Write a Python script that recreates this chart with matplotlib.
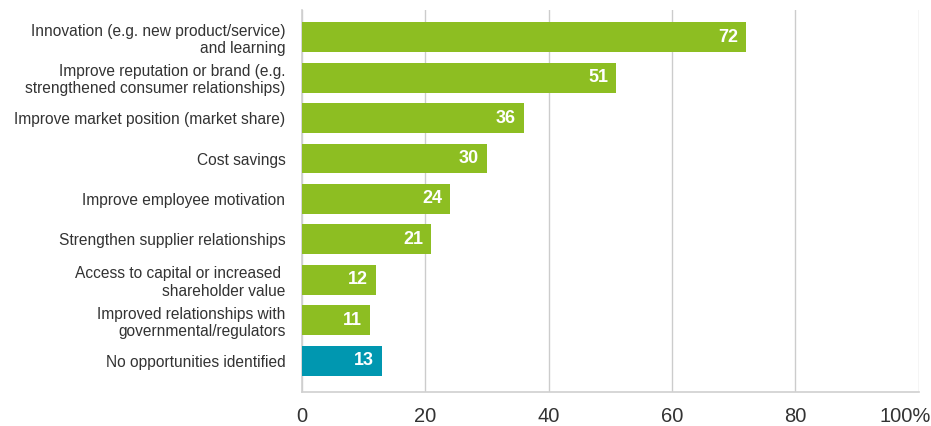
import matplotlib.pyplot as plt
from matplotlib.transforms import ScaledTranslation

plt.rcParams['font.family'] = ['Liberation Sans', 'DejaVu Sans']

# Datos del grafico
categories = [
    "Innovation (e.g. new product/service)\nand learning",
    "Improve reputation or brand (e.g.\nstrengthened consumer relationships)",
    "Improve market position (market share)",
    "Cost savings",
    "Improve employee motivation",
    "Strengthen supplier relationships",
    "Access to capital or increased \nshareholder value",
    "Improved relationships with\ngovernmental/regulators",
    "No opportunities identified",
]
values = [72, 51, 36, 30, 24, 21, 12, 11, 13]
colors = ['#8dbe22'] * 8 + ['#0097b0']
ticks = [0, 20, 40, 60, 80, 100]
tick_labels = ['0', '20', '40', '60', '80', '100%']

fig = plt.figure(figsize=(9.31, 4.26), dpi=100)
ax = fig.add_axes([302 / 931, 34 / 426, 616.5 / 931, 382 / 426])

pos = list(range(len(values)))
ax.barh(pos, values, height=0.74, color=colors, zorder=3)
for p, v in zip(pos, values):
    ax.text(v - 1.3, p, str(v), ha='right', va='center', color='white',
            fontsize=13, fontweight='bold', zorder=4)

ax.set_ylim(8 + 0.77, -0.67)
ax.set_xlim(0, 100)
ax.set_yticks(pos)
ax.set_yticklabels(categories, fontsize=11.2, color='#333333')
ax.set_xticks(ticks)
ax.set_xticklabels(tick_labels, fontsize=14.5, color='#333333')
ax.tick_params(axis='y', length=0, pad=12)
ax.tick_params(axis='x', length=0, pad=11)
ax.grid(axis='x', color='#cccccc', linewidth=1, zorder=0)
for s in ['top', 'right']:
    ax.spines[s].set_visible(False)
for s in ['left', 'bottom']:
    ax.spines[s].set_color('#d0d0d0')
    ax.spines[s].set_linewidth(1.2)

# el ultimo rotulo "100%" se desplaza para que quepa en la figura
last = ax.get_xticklabels()[-1]
last.set_transform(last.get_transform() + ScaledTranslation(-0.13, 0, fig.dpi_scale_trans))

fig.savefig('out.png', dpi=100)
